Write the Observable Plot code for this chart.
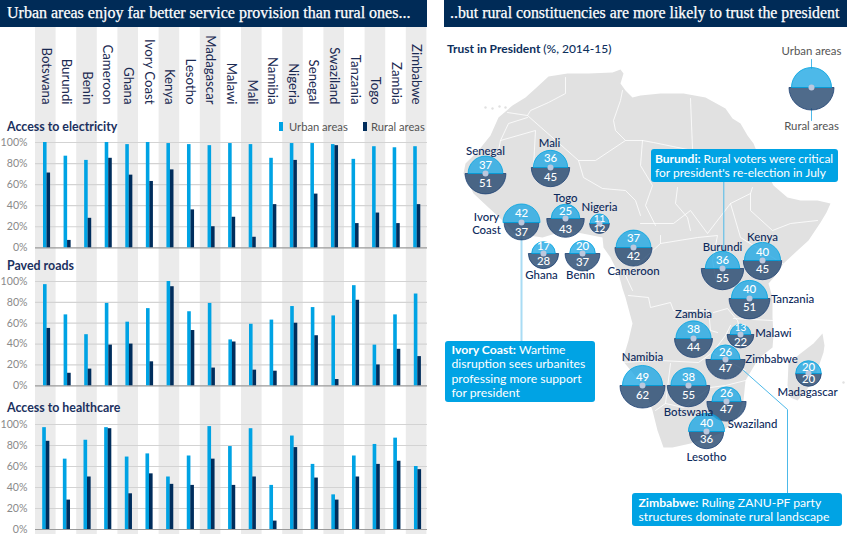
<!DOCTYPE html>
<html><head><meta charset="utf-8">
<script src="https://cdn.jsdelivr.net/npm/d3@7"></script>
<script src="https://cdn.jsdelivr.net/npm/@observablehq/plot@0.6"></script>
<style>
html,body{margin:0;padding:0;background:#fff;}
#page{position:relative;width:847px;height:534px;overflow:hidden;font-family:Lato,sans-serif;}
#page>div{position:absolute;}
#page svg{display:block;background:transparent;font-family:Lato,sans-serif;overflow:visible;}
.hdr{background:#002b57;color:#fff;height:26.5px;line-height:25px;top:0;font-family:"Liberation Serif",serif;white-space:nowrap;box-sizing:border-box;-webkit-text-stroke:.25px #fff;}
.sec{font-weight:700;font-size:12.4px;color:#1b3160;white-space:nowrap;line-height:14px;}
.lg{font-size:11.2px;color:#555;white-space:nowrap;line-height:14px;}
.sw{width:3.6px;height:9px;}
.box{background:#00a3e4;color:#fff;border-radius:3px;font-size:12.2px;line-height:14.3px;box-sizing:border-box;white-space:nowrap;}
.box b{font-weight:700;}
</style></head><body><div id="page"></div>
<script>
// ---- left panel data
const countries=["Botswana","Burundi","Benin","Cameroon","Ghana","Ivory Coast","Kenya","Lesotho","Madagascar","Malawi","Mali","Namibia","Nigeria","Senegal","Swaziland","Tanzania","Togo","Zambia","Zimbabwe"];
const electricityUrban=[100,87,83,100,98,100,99,98,97,99,98,85,99,99,98,84,96,95,96];
const electricityRural=[71,7,28,85,69,63,74,36,20,29,10,41,83,51,97,23,33,23,41];
const roadsUrban=[97,68,49,79,61,74,100,71,79,44,59,63,76,75,67,96,39,68,88];
const roadsRural=[55,12,16,39,40,23,95,53,17,42,15,14,60,48,6,82,20,35,28];
const healthUrban=[97,67,85,97,69,72,50,70,98,79,96,42,89,62,33,70,81,87,60];
const healthRural=[84,28,50,96,34,53,43,42,67,42,50,8,78,49,28,50,62,65,57];
const percentTicks=[0,20,40,60,80,100];

// ---- right panel data (bubbles, in map units)
const trustNames=["Senegal","Mali","Ivory\nCoast","Togo","Nigeria","Ghana","Benin","Cameroon","Burundi","Kenya","Tanzania","Zambia","Malawi","Namibia","Botswana","Zimbabwe","Swaziland","Lesotho","Madagascar"];
const trustUrban=[37,36,42,25,11,17,20,37,36,40,40,38,13,49,38,26,26,40,20];
const trustRural=[51,45,37,43,12,28,37,42,55,45,51,44,22,62,55,47,47,36,20];
const bubbleX=[485,550,521,565,599,543,582,633,722,762,749,693,740,642,688,725,726,706,808];
const bubbleY=[173,167,222,218,223,253,253,247,268,260,298,338,334,385,385,359,401,431,373];
const urbanLabelUp=[8,8.7,9,6.7,5,7,7,9,8,8,9,9,7,8,8,7,8,8,6];
const ruralLabelDown=[10,9.7,9.5,11,5,8,9,9,10,9,9,9,8,10,10,9,8,8,6];
const nameX=[485,549,486,565,599,541,580,633,722,762,792,693,773,642,688,771,752,706,807];
const nameY=[150,142,223,197,206,274,274,270,246,236,298,313,332,356,411,358,423,456,391];
const keyBubble={x:811,y:87,u:49,r:62};

// ---- map outline, traced in map units
const mainland=[[525,97],[535,88],[548,76],[567,73],[588,73],[612,72],[620,69],[623,73],[620,83],[625,90],[632,97],[640,95],[660,93],[683,93],[705,97],[725,108],[732,118],[740,123],[747,135],[753,143],[760,160],[773,185],[787,197],[800,200],[817,200],[830,203],[826,212],[820,222],[808,240],[797,250],[783,263],[775,275],[768,283],[772,297],[772,317],[773,335],[772,347],[758,358],[745,380],[743,400],[737,417],[720,433],[705,438],[690,443],[672,447],[663,447],[657,430],[652,410],[645,390],[632,372],[622,360],[628,340],[632,323],[625,297],[622,288],[618,273],[610,257],[603,247],[602,237],[582,233],[565,230],[542,237],[515,233],[502,220],[488,207],[473,193],[463,173],[465,163],[478,150],[490,135],[498,117],[512,105]];
const madagascar=[[822,333],[824,345],[823,352],[816,372],[806,390],[797,400],[790,397],[787,385],[788,363],[800,353],[813,343]];
const islands=[[485,107],[492,108],[499,106],[505,107],[843,382]];
const borders=[
 [[507,112],[527,115],[530,110],[548,102],[565,93],[565,77]],
 [[527,115],[578,160],[595,160],[625,140],[642,140]],
 [[625,140],[615,130],[613,120],[620,100],[622,90]],
 [[527,117],[508,123],[500,140],[497,155]],
 [[500,140],[535,130],[533,167]],
 [[578,160],[583,177],[602,188],[625,190],[635,200],[640,215]],
 [[642,140],[640,165],[652,185],[645,205],[655,225]],
 [[642,140],[653,142],[692,150],[692,148],[690,98]],
 [[692,150],[753,150]],
 [[677,187],[675,203],[687,217],[690,230]],
 [[640,223],[673,223],[690,210],[707,233],[730,203],[750,193],[752,187]],
 [[750,193],[750,210],[772,230],[790,223],[817,220]],
 [[730,203],[740,237],[790,268]],
 [[660,243],[697,237],[717,235],[712,260],[716,282]],
 [[628,295],[648,297],[650,307],[670,302],[673,310],[708,310],[710,330],[717,332]],
 [[620,362],[660,360],[698,362],[712,352],[725,335],[730,325]],
 [[713,312],[727,308],[737,320],[740,330]],
 [[733,318],[772,320]],
 [[670,363],[665,403],[655,410]],
 [[665,403],[683,407],[710,387],[725,385],[745,380]],
 [[712,352],[745,370]],
 [[632,290],[625,275],[660,243],[660,235]]
];
const ivoryLeader=[[521,236],[521,342]];
const zimbabweLeader=[[743,370],[787,409],[787,494]];
const burundiLeader=[[723.3,181],[723.3,250]];
const keyLeaders=[[[811,59],[811,68]],[[811,108],[811,120]]];

const URBAN="#00a3e4",RURAL="#002d5c";
const page=document.getElementById("page");
function place(el,left,top){el.style.left=left+"px";el.style.top=top+"px";page.appendChild(el);return el;}
function html(cls,left,top,inner,extra){const d=document.createElement("div");d.className=cls;d.innerHTML=inner;if(extra)d.style.cssText+=extra;return place(d,left,top);}
function wrap(node,left,top){const d=document.createElement("div");d.appendChild(node);return place(d,left,top);}

// stripes and country names
wrap(Plot.plot({width:430,height:508,margin:0,
  x:{domain:countries,range:[35,426.4],padding:0,round:false,axis:null},
  marks:[
    Plot.cell(countries.filter((d,i)=>i%2==0),{x:d=>d,fill:"#ebebeb"}),
    Plot.text(countries,{x:d=>d,frameAnchor:"top",dy:78,text:d=>d,rotate:90,textAnchor:"end",lineAnchor:"middle",fontSize:13.2,fill:"#1b2a52"})
  ]}),0,26);

function panel(urban,rural,top,bottom,range){
  const mt=6,mb=5;
  const rows=countries.map((c,i)=>({c,u:urban[i],r:rural[i]}));
  wrap(Plot.plot({width:430,height:bottom-top+mt+mb,marginTop:mt,marginBottom:mb,marginLeft:35,marginRight:3,
    x:{domain:countries,range,padding:0,round:false,axis:null},
    y:{domain:[0,100],axis:null},
    marks:[
      Plot.ruleY(percentTicks.slice(1),{stroke:"#d3d3d3",strokeWidth:1.2}),
      Plot.ruleY([0],{stroke:"#9a9a9a",strokeWidth:1.2}),
      Plot.axisY({ticks:percentTicks,tickFormat:d=>d+"%",tickSize:0,tickPadding:8,fontSize:10.6,fill:"#8a8a8a",label:null}),
      Plot.barY(rows,{x:"c",y:"u",fill:URBAN,insetLeft:6.8,insetRight:10.2}),
      Plot.barY(rows,{x:"c",y:"r",fill:RURAL,insetLeft:10.3,insetRight:6.7})
    ]}),0,top-mt);
}
panel(electricityUrban,electricityRural,142,247.3,[36.2,427]);
panel(roadsUrban,roadsRural,281,385.3,[36.2,427.6]);
panel(healthUrban,healthRural,424,529,[35.4,427.8]);

// right map
const bubbles=trustNames.map((n,i)=>({n,u:trustUrban[i],r:trustRural[i],x:bubbleX[i],y:bubbleY[i],
    ly:bubbleY[i]-urbanLabelUp[i],ry:bubbleY[i]+ruralLabelDown[i],nx:nameX[i],ny:nameY[i]}));
const topHalf={draw(c,s){const r=Math.sqrt(s/Math.PI);c.moveTo(-r,0);c.arc(0,0,r,Math.PI,0);c.closePath();}};
const botHalf={draw(c,s){const r=Math.sqrt(s/Math.PI);c.moveTo(r,0);c.arc(0,0,r,0,Math.PI);c.closePath();}};
const allB=[...bubbles,keyBubble];
const px=d=>d[0],py=d=>d[1];
wrap(Plot.plot({width:412,height:534,margin:0,
  x:{domain:[435,847],range:[0,412],axis:null},
  y:{domain:[0,534],range:[0,534],axis:null},
  r:{type:"sqrt",domain:[0,100],range:[0,28.6]},
  marks:[
    Plot.line(mainland,{x:px,y:py,curve:"linear-closed",fill:"#e1e1e1",stroke:"none"}),
    Plot.line(madagascar,{x:px,y:py,curve:"linear-closed",fill:"#e1e1e1",stroke:"none"}),
    Plot.dot(islands,{x:px,y:py,r:1.2,fill:"#e1e1e1",stroke:"none"}),
    ...borders.map(b=>Plot.line(b,{x:px,y:py,stroke:"#fff",strokeWidth:.8})),
    Plot.line(ivoryLeader,{x:px,y:py,stroke:"#a9dcf4",strokeWidth:2}),
    Plot.line(zimbabweLeader,{x:px,y:py,stroke:"#4db9e9",strokeWidth:1}),
    Plot.line(burundiLeader,{x:px,y:py,stroke:"#4db9e9",strokeWidth:1}),
    ...keyLeaders.map(b=>Plot.line(b,{x:px,y:py,stroke:"#4db9e9",strokeWidth:1})),
    Plot.dot(allB,{x:"x",y:"y",r:"r",symbol:botHalf,fill:"#23466e",fillOpacity:.8,stroke:"#1f4275",strokeWidth:.8}),
    Plot.dot(allB,{x:"x",y:"y",r:"u",symbol:topHalf,fill:"#20a7e3",fillOpacity:.8,stroke:"#00a3e0",strokeWidth:.8}),
    Plot.dot(allB,{x:"x",y:"y",r:3,fill:"#bcc8de",stroke:"none"}),
    Plot.text(bubbles,{x:"x",y:"ly",text:"u",fill:"#fff",fontSize:d=>d.u<14?10:11.4,fontWeight:500}),
    Plot.text(bubbles,{x:"x",y:"ry",text:"r",fill:"#fff",fontSize:d=>d.r<14?10:11.4,fontWeight:500}),
    Plot.text(bubbles,{x:"nx",y:"ny",text:"n",fill:"#0d2a5c",fontSize:11.4,fontWeight:500,lineHeight:1.12}),
    Plot.text(["Urban areas"],{x:[811],y:[51],text:d=>d,fill:"#555",fontSize:11.4}),
    Plot.text(["Rural areas"],{x:[811],y:[126],text:d=>d,fill:"#555",fontSize:11.4})
  ]}),435,0);

// headers and callouts
html("hdr",0,0,"Urban areas enjoy far better service provision than rural ones...","width:427px;padding-left:7px;font-size:16px;");
html("hdr",444,0,"..but rural constituencies are more likely to trust the president","width:403px;padding-left:6px;font-size:15.85px;");
html("sec",7,120,"Access to electricity");
html("sec",7,259,"Paved roads");
html("sec",7,401,"Access to healthcare");
html("sw",279,122,"","background:"+URBAN);
html("lg",289,120,"Urban areas");
html("sw",363,122,"","background:"+RURAL);
html("lg",371,120,"Rural areas");
html("sec",447,42,'Trust in President <span style="font-weight:500">(%, 2014-15)</span>',"color:#0d2f5c;font-size:12px;");
html("box",651,149,"<b>Burundi:</b> Rural voters were critical<br>for president's re-election in July","width:187px;height:33px;padding:2.5px 0 0 4px;font-size:12px;");
html("box",445,341,"<b>Ivory Coast:</b> Wartime<br>disruption sees urbanites<br>professing more support<br>for president","width:150px;height:61px;padding:2px 0 0 6.5px;");
html("box",632,493,"<b>Zimbabwe:</b> Ruling ZANU-PF party<br>structures dominate rural landscape","width:210px;height:33px;padding:2.5px 0 0 6.5px;");
</script></body></html>
